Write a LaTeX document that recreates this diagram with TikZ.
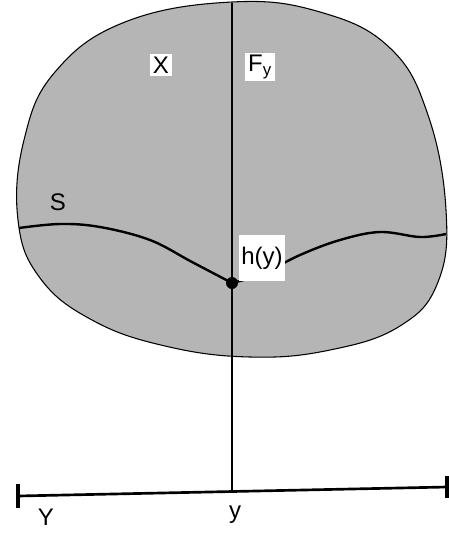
\documentclass[tikz,border=0pt]{standalone}
\usepackage{fontspec}
\setmainfont{Liberation Sans}
\begin{document}
\begin{tikzpicture}[x=0.75pt,y=-0.75pt,
  lab/.style={fill=white,inner sep=2pt,font=\fontsize{18}{19}\selectfont},
  plainlab/.style={inner sep=1pt,font=\fontsize{18}{19}\selectfont}]
\useasboundingbox (0,0) rectangle (449,533);
% blob
\draw[fill=gray!58,line width=0.8pt] plot[smooth cycle,tension=0.7] coordinates{
(232,2) (320,12) (390,48) (428,115) (446,210) (438,282) (400,326) (330,350)
(250,357) (165,346) (92,320) (40,278) (18,220) (24,140) (55,72) (125,22)};
% fibre
\coordinate (top) at (232,3);
\coordinate (base) at (232,491);
\node[circle,fill=black,inner sep=0pt,minimum size=9pt] (h) at (232,283) {};
\draw[line width=1.1pt] (top) -- (h);
\draw[line width=1.1pt] (h) -- (base);
% section S
\draw[line width=1.8pt] plot[smooth,tension=0.6] coordinates{
(19,228) (60,224) (100,227) (150,240) (192,262) (232,283)};
\draw[line width=1.8pt] plot[smooth,tension=0.6] coordinates{
(232,283) (262,274) (300,255) (340,240) (380,232) (420,237) (446,234)};
% base
\coordinate (bl) at (18,496);
\coordinate (br) at (447,487);
\draw[line width=2pt] (bl) -- (br);
\draw[line width=2.5pt] (18,484) -- (18,508);
\draw[line width=2.5pt] (447,476) -- (447,498);
% labels
\node[lab] (X) at (161,65) {X};
\node[lab] (F) at (260,67) {F$_{\mathrm{y}}$};
\node[plainlab] (S) at (58,202) {S};
\node[lab,minimum height=34pt] (hy) at (262,258) {h(y)};
\node[plainlab] (Y) at (46,517) {Y};
\node[plainlab] (y) at (235,515) {y};
\end{tikzpicture}
\end{document}
